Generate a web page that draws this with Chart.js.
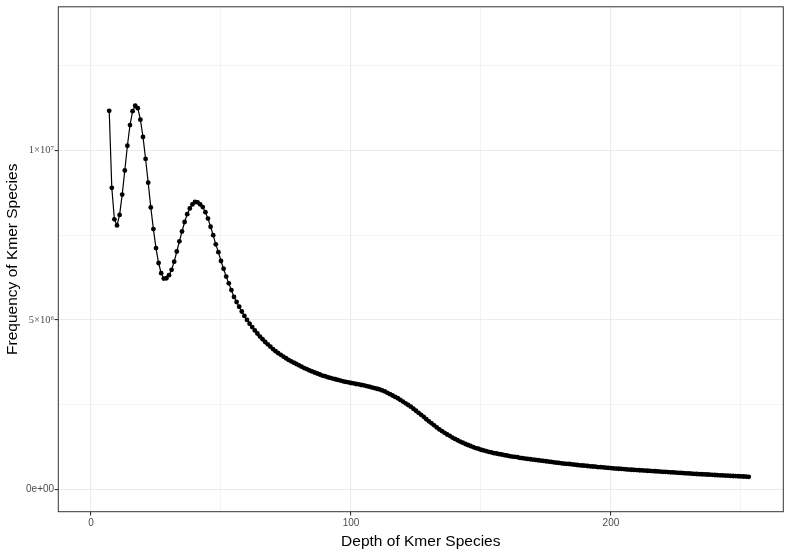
<!DOCTYPE html>
<html>
<head>
<meta charset="utf-8">
<script src="https://cdn.jsdelivr.net/npm/chart.js@4"></script>
<style>
  body { margin: 0; background: #ffffff; }
  #kmerChart { display: block; }
</style>
</head>
<body>
<canvas id="kmerChart" width="789" height="556"></canvas>
<script>
// Depth of kmer species (x) and frequency in millions (y)
const depth = [
    7, 8, 9,
    10, 11, 12, 13, 14, 15, 16, 17, 18, 19,
    20, 21, 22, 23, 24, 25, 26, 27, 28, 29,
    30, 31, 32, 33, 34, 35, 36, 37, 38, 39,
    40, 41, 42, 43, 44, 45, 46, 47, 48, 49,
    50, 51, 52, 53, 54, 55, 56, 57, 58, 59,
    60, 61, 62, 63, 64, 65, 66, 67, 68, 69,
    70, 71, 72, 73, 74, 75, 76, 77, 78, 79,
    80, 81, 82, 83, 84, 85, 86, 87, 88, 89,
    90, 91, 92, 93, 94, 95, 96, 97, 98, 99,
    100, 101, 102, 103, 104, 105, 106, 107, 108, 109,
    110, 111, 112, 113, 114, 115, 116, 117, 118, 119,
    120, 121, 122, 123, 124, 125, 126, 127, 128, 129,
    130, 131, 132, 133, 134, 135, 136, 137, 138, 139,
    140, 141, 142, 143, 144, 145, 146, 147, 148, 149,
    150, 151, 152, 153, 154, 155, 156, 157, 158, 159,
    160, 161, 162, 163, 164, 165, 166, 167, 168, 169,
    170, 171, 172, 173, 174, 175, 176, 177, 178, 179,
    180, 181, 182, 183, 184, 185, 186, 187, 188, 189,
    190, 191, 192, 193, 194, 195, 196, 197, 198, 199,
    200, 201, 202, 203, 204, 205, 206, 207, 208, 209,
    210, 211, 212, 213, 214, 215, 216, 217, 218, 219,
    220, 221, 222, 223, 224, 225, 226, 227, 228, 229,
    230, 231, 232, 233, 234, 235, 236, 237, 238, 239,
    240, 241, 242, 243, 244, 245, 246, 247, 248, 249,
    250, 251, 252, 253
];

const frequencyMillions = [
    11.17, 8.90, 7.97,
    7.79, 8.10, 8.70, 9.41, 10.14, 10.75, 11.16, 11.32, 11.25, 10.91,
    10.40, 9.75, 9.05, 8.32, 7.68, 7.12, 6.68, 6.38, 6.22, 6.23,
    6.32, 6.48, 6.72, 7.02, 7.32, 7.61, 7.89, 8.12, 8.29, 8.41,
    8.48, 8.47, 8.41, 8.33, 8.18, 7.99, 7.75, 7.50, 7.23, 7.00,
    6.74, 6.51, 6.28, 6.08, 5.88, 5.68, 5.53, 5.39, 5.25, 5.12,
    5.00, 4.89, 4.79, 4.69, 4.60, 4.51, 4.43, 4.35, 4.28, 4.21,
    4.14, 4.08, 4.02, 3.97, 3.92, 3.87, 3.82, 3.78, 3.74, 3.70,
    3.66, 3.62, 3.58, 3.55, 3.51, 3.48, 3.45, 3.42, 3.39, 3.36,
    3.34, 3.31, 3.29, 3.27, 3.25, 3.23, 3.21, 3.19, 3.17, 3.16,
    3.14, 3.13, 3.11, 3.10, 3.08, 3.07, 3.05, 3.03, 3.01, 2.99,
    2.97, 2.95, 2.92, 2.89, 2.85, 2.81, 2.77, 2.73, 2.69, 2.64,
    2.59, 2.54, 2.49, 2.44, 2.38, 2.32, 2.26, 2.20, 2.14, 2.07,
    2.01, 1.95, 1.89, 1.83, 1.77, 1.72, 1.67, 1.62, 1.58, 1.53,
    1.49, 1.45, 1.41, 1.38, 1.34, 1.31, 1.28, 1.25, 1.22, 1.20,
    1.17, 1.15, 1.13, 1.11, 1.09, 1.07, 1.06, 1.04, 1.03, 1.01,
    1.00, 0.98, 0.97, 0.96, 0.95, 0.93, 0.92, 0.91, 0.90, 0.89,
    0.88, 0.87, 0.86, 0.85, 0.84, 0.83, 0.82, 0.81, 0.80, 0.79,
    0.78, 0.77, 0.76, 0.755, 0.75, 0.74, 0.73, 0.72, 0.71, 0.705,
    0.70, 0.69, 0.68, 0.675, 0.67, 0.66, 0.655, 0.65, 0.64, 0.635,
    0.63, 0.62, 0.615, 0.61, 0.605, 0.60, 0.59, 0.585, 0.58, 0.575,
    0.57, 0.565, 0.56, 0.555, 0.55, 0.545, 0.54, 0.535, 0.53, 0.525,
    0.52, 0.515, 0.51, 0.505, 0.50, 0.495, 0.49, 0.485, 0.48, 0.475,
    0.47, 0.465, 0.46, 0.455, 0.45, 0.447, 0.443, 0.44, 0.435, 0.43,
    0.425, 0.42, 0.416, 0.412, 0.408, 0.404, 0.40, 0.396, 0.392, 0.388,
    0.384, 0.38, 0.376, 0.372
];

// grid positions (major + minor) and the labels shown on the major ones
const xGrid = [0, 50, 100, 150, 200, 250];
const xLabels = { 0: '0', 100: '100', 200: '200' };
const yGrid = [0, 2500000, 5000000, 7500000, 10000000, 12500000];
const yLabels = { 0: '0e+00', 5000000: '5\u00d710\u2076', 10000000: '1\u00d710\u2077' };

const points = depth.map((d, i) => ({ x: d, y: frequencyMillions[i] * 1e6 }));

// panel border like theme_bw
const panelBorder = {
    id: 'panelBorder',
    afterDraw(chart) {
        const { ctx, chartArea: a } = chart;
        ctx.save();
        ctx.strokeStyle = '#333333';
        ctx.lineWidth = 1;
        ctx.strokeRect(a.left, a.top, a.right - a.left, a.bottom - a.top);
        ctx.restore();
    }
};

const isMajorX = v => v in xLabels;
const isMajorY = v => v in yLabels;

new Chart(document.getElementById('kmerChart'), {
    type: 'line',
    data: {
        datasets: [{
            data: points,
            borderColor: '#000000',
            borderWidth: 1.2,
            pointRadius: 2.4,
            pointBackgroundColor: '#000000',
            pointBorderWidth: 0,
            fill: false,
            tension: 0
        }]
    },
    options: {
        responsive: false,
        animation: false,
        devicePixelRatio: 1,
        layout: { padding: { left: 0, top: 4.3, right: 5.7, bottom: 0 } },
        plugins: { legend: { display: false }, tooltip: { enabled: false } },
        scales: {
            x: {
                type: 'linear',
                min: -12.58,
                max: 266.3,
                afterBuildTicks: s => { s.ticks = xGrid.map(v => ({ value: v })); },
                afterFit: s => { s.height = 44.3; },
                grid: {
                    color: '#ebebeb',
                    lineWidth: c => (c.tick && isMajorX(c.tick.value)) ? 1.1 : 0.55,
                    tickColor: c => (c.tick && isMajorX(c.tick.value)) ? '#333333' : 'rgba(0,0,0,0)',
                    tickLength: 3.7,
                    drawTicks: true
                },
                border: { display: false },
                ticks: {
                    autoSkip: false,
                    maxRotation: 0,
                    padding: 1.5,
                    color: '#4d4d4d',
                    font: { family: 'Liberation Sans', size: 10 },
                    callback: v => xLabels[v] || ''
                },
                title: {
                    display: true,
                    text: 'Depth of Kmer Species',
                    color: '#000000',
                    font: { family: 'Liberation Sans', size: 15.5 },
                    padding: { top: 0, bottom: 4.7 }
                }
            },
            y: {
                type: 'linear',
                min: -658000,
                max: 14240000,
                afterBuildTicks: s => { s.ticks = yGrid.map(v => ({ value: v })); },
                afterFit: s => { s.width = 58.3; },
                grid: {
                    color: '#ebebeb',
                    lineWidth: c => (c.tick && isMajorY(c.tick.value)) ? 1.1 : 0.55,
                    tickColor: c => (c.tick && isMajorY(c.tick.value)) ? '#333333' : 'rgba(0,0,0,0)',
                    tickLength: 3.7,
                    drawTicks: true
                },
                border: { display: false },
                ticks: {
                    autoSkip: false,
                    padding: 0.5,
                    color: '#4d4d4d',
                    font: c => (c.tick && c.tick.value === 0)
                        ? { family: 'Liberation Sans', size: 10 }
                        : { family: 'Liberation Serif', size: 10.5 },
                    callback: v => yLabels[v] || ''
                },
                title: {
                    display: true,
                    text: 'Frequency of Kmer Species',
                    color: '#000000',
                    font: { family: 'Liberation Sans', size: 15.5 },
                    padding: { top: 3.2, bottom: 0 }
                }
            }
        }
    },
    plugins: [panelBorder]
});
</script>
</body>
</html>
